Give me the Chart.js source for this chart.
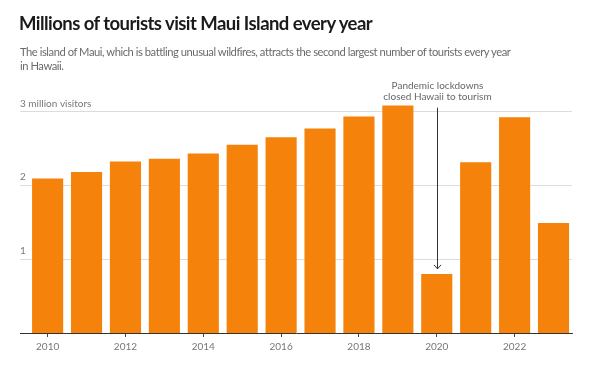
<!DOCTYPE html>
<html>
<head>
<meta charset="utf-8">
<script src="https://cdn.jsdelivr.net/npm/chart.js@4"></script>
<style>
  html, body { margin: 0; padding: 0; background: #fff; }
  #wrap { position: relative; width: 600px; height: 366px; overflow: hidden; }
  #title { position: absolute; left: 19px; top: 12px; font: bold 18.5px Lato, sans-serif; letter-spacing: -0.55px; color: #1a1a1a; white-space: nowrap; }
  #sub { position: absolute; left: 20px; top: 45px; width: 494px; font: 11.2px Lato, sans-serif; letter-spacing: -0.45px; line-height: 14px; color: #6b6b6b; }
  canvas { position: absolute; left: 0; top: 0; }
</style>
</head>
<body>
<div id="wrap">
  <canvas id="chart" width="600" height="366"></canvas>
  <div id="title">Millions of tourists visit Maui Island every year</div>
  <div id="sub">The island of Maui, which is battling unusual wildfires, attracts the second largest number of tourists every year in Hawaii.</div>
</div>
<script>
const years = [2010, 2011, 2012, 2013, 2014, 2015, 2016, 2017, 2018, 2019, 2020, 2021, 2022, 2023];
const visitors = [2.09, 2.18, 2.32, 2.36, 2.43, 2.55, 2.65, 2.77, 2.93, 3.08, 0.80, 2.31, 2.92, 1.49];
const yTicks = [1, 2, 3];
const yLabels = ['1', '2', '3 million visitors'];
const xTicks = [2010, 2012, 2014, 2016, 2018, 2020, 2022];
const noteYear = 2020;
const noteLines = ['Pandemic lockdowns', 'closed Hawaii to tourism'];

const labelsAbove = {
  id: 'labelsAbove',
  afterDraw(chart) {
    const ctx = chart.ctx, y = chart.scales.y, x = chart.scales.x;
    ctx.save();
    ctx.font = '10px Lato, sans-serif';
    ctx.fillStyle = '#777';
    ctx.textAlign = 'left';
    ctx.textBaseline = 'bottom';
    yTicks.forEach((v, i) => ctx.fillText(yLabels[i], chart.chartArea.left, y.getPixelForValue(v) - 3));

    const px = Math.round(x.getPixelForValue(noteYear)) + 0.5;
    const top = y.getPixelForValue(3.05);
    const bottom = y.getPixelForValue(visitors[years.indexOf(noteYear)]) - 5;
    ctx.strokeStyle = '#333';
    ctx.lineWidth = 1;
    ctx.beginPath();
    ctx.moveTo(px, top);
    ctx.lineTo(px, bottom);
    ctx.moveTo(px - 3.5, bottom - 4);
    ctx.lineTo(px, bottom);
    ctx.lineTo(px + 3.5, bottom - 4);
    ctx.stroke();
    ctx.font = '10px Lato, sans-serif';
    ctx.fillStyle = '#666';
    ctx.textAlign = 'center';
    ctx.textBaseline = 'middle';
    ctx.fillText(noteLines[0], px, top - 22);
    ctx.fillText(noteLines[1], px, top - 11);
    ctx.restore();
  }
};

new Chart(document.getElementById('chart'), {
  type: 'bar',
  data: {
    datasets: [{
      data: years.map((yr, i) => ({ x: yr, y: visitors[i] })),
      backgroundColor: '#f5820a',
      barPercentage: 0.8,
      categoryPercentage: 1
    }]
  },
  options: {
    responsive: false,
    animation: false,
    layout: { padding: { left: 20, right: 28, top: 104, bottom: 0 } },
    plugins: { legend: { display: false }, tooltip: { enabled: false } },
    scales: {
      x: {
        type: 'linear',
        offset: false,
        min: 2009.29,
        max: 2023.475,
        afterBuildTicks: s => { s.ticks = xTicks.map(v => ({ value: v })); },
        afterFit: s => { s.height = 33; },
        grid: { offset: false, drawOnChartArea: false, drawTicks: true, tickLength: 4, color: '#444' },
        border: { color: '#333', width: 1 },
        ticks: { color: '#777', font: { family: 'Lato', size: 10 }, padding: 4, callback: v => String(v) }
      },
      y: {
        min: 0,
        max: 3.1,
        afterBuildTicks: s => { s.ticks = yTicks.map(v => ({ value: v })); },
        afterFit: s => { s.width = 0; },
        grid: { color: '#dcdcdc', drawTicks: false },
        border: { display: false },
        ticks: { display: false }
      }
    }
  },
  plugins: [labelsAbove]
});
</script>
</body>
</html>
